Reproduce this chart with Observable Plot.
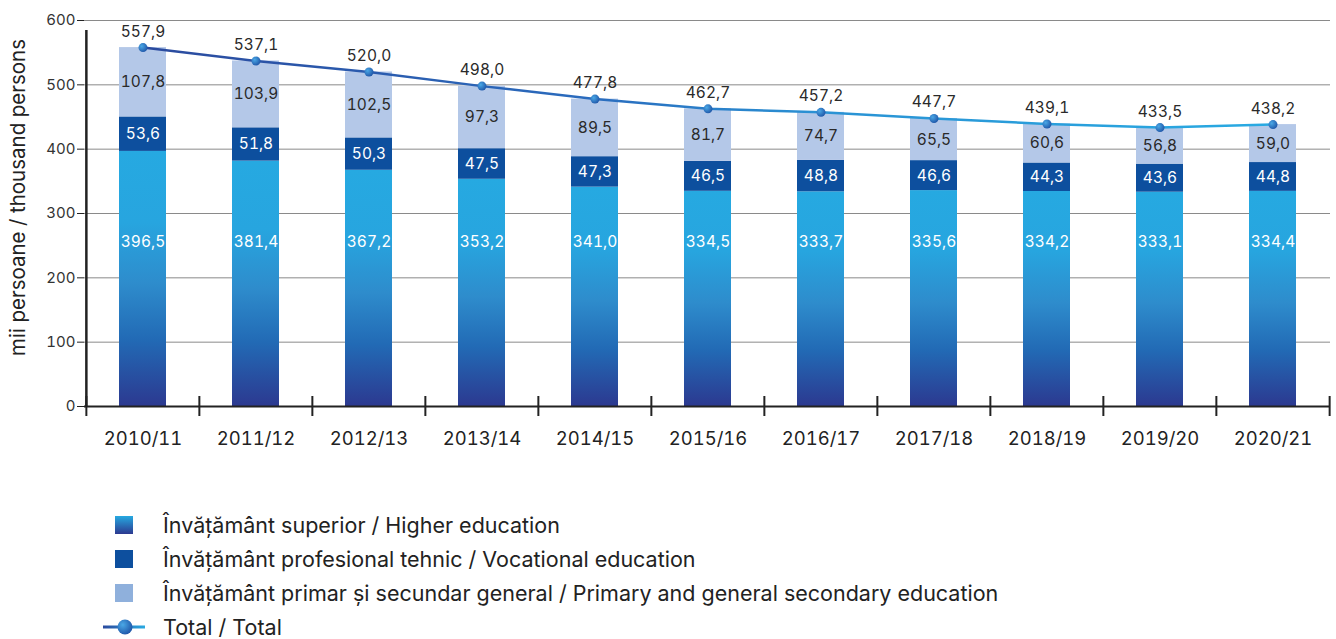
<!DOCTYPE html>
<html>
<head>
<meta charset="utf-8">
<script src="https://cdn.jsdelivr.net/npm/d3@7"></script>
<script src="https://cdn.jsdelivr.net/npm/@observablehq/plot@0.6"></script>
<style>
  body { margin: 0; background: #fff; font-family: Inter, "Noto Sans", sans-serif; }
  svg text { font-variant-numeric: tabular-nums; }
  #legend { margin-top: 38px; position: relative; }
  .row { height: 34px; display: flex; align-items: center; position: relative; font-size: 21.5px; color: #222; }
  .row .ico { position: absolute; left: 115px; width: 18px; height: 18px; }
  .row .txt { position: absolute; left: 163px; white-space: nowrap; line-height: 24px; }
  .row svg { position: absolute; left: 100px; }
</style>
</head>
<body>
<div id="chart"></div>
<div id="legend"></div>
<script>
const years = ["2010/11","2011/12","2012/13","2013/14","2014/15","2015/16","2016/17","2017/18","2018/19","2019/20","2020/21"];
const higher = [396.5,381.4,367.2,353.2,341.0,334.5,333.7,335.6,334.2,333.1,334.4];
const vocational = [53.6,51.8,50.3,47.5,47.3,46.5,48.8,46.6,44.3,43.6,44.8];
const general = [107.8,103.9,102.5,97.3,89.5,81.7,74.7,65.5,60.6,56.8,59.0];
const totals = [557.9,537.1,520.0,498.0,477.8,462.7,457.2,447.7,439.1,433.5,438.2];
const seriesNames = [
  "Învățământ superior / Higher education",
  "Învățământ profesional tehnic / Vocational education",
  "Învățământ primar și secundar general / Primary and general secondary education"
];
const totalName = "Total / Total";
const yTicks = [0,100,200,300,400,500,600];
const yTitle = "mii persoane / thousand persons";

const W = 1336, H = 470, mL = 84, mR = 6, mT = 20, mB = 64;
const step = (W - mL - mR) / years.length;
const fmt = v => v.toFixed(1).replace(".", ",");
const font = "Inter, 'Noto Sans', sans-serif";

const seriesValues = [higher, vocational, general];
const stacked = [];
seriesNames.forEach((s, si) => years.forEach((y, i) => stacked.push({year: y, series: s, value: seriesValues[si][i]})));
const rows = years.map((y, i) => ({year: y, higher: higher[i], vocational: vocational[i], general: general[i], total: totals[i]}));

const NS = "http://www.w3.org/2000/svg";
function defs() {
  const d = document.createElementNS(NS, "defs");
  d.innerHTML = `
    <linearGradient id="gHigher" x1="0" y1="0" x2="0" y2="1">
      <stop offset="0" stop-color="#26a9e1"/>
      <stop offset="0.28" stop-color="#27a5df"/>
      <stop offset="0.52" stop-color="#2e8ccc"/>
      <stop offset="0.74" stop-color="#226ab5"/>
      <stop offset="1" stop-color="#2c3990"/>
    </linearGradient>
    <linearGradient id="gLine" x1="0" y1="0" x2="1" y2="0">
      <stop offset="0" stop-color="#2b4a9e"/>
      <stop offset="0.4" stop-color="#2a6cbe"/>
      <stop offset="0.6" stop-color="#2a92d4"/>
      <stop offset="1" stop-color="#29aae2"/>
    </linearGradient>
    <radialGradient id="gDot" cx="0.35" cy="0.35" r="0.7">
      <stop offset="0" stop-color="#4aa8e6"/>
      <stop offset="1" stop-color="#1f56a8"/>
    </radialGradient>`;
  return d;
}

const chart = Plot.plot({
  width: W, height: H,
  marginLeft: mL, marginRight: mR, marginTop: mT, marginBottom: mB,
  style: {fontFamily: font, background: "#fff"},
  x: {domain: years, paddingInner: 0.585, paddingOuter: 0.2925, label: null},
  y: {domain: [0, 600], label: null},
  color: {domain: seriesNames, range: ["url(#gHigher)", "#0d4f9e", "#b4c8e8"]},
  marks: [
    defs,
    Plot.gridY(yTicks, {stroke: "#8a8a8a", strokeOpacity: 1, strokeWidth: 1}),
    Plot.axisY(yTicks, {tickSize: 7, tickPadding: 2, fontSize: 15, fill: "#333", stroke: "#222", label: null}),
    Plot.axisX({tickSize: 0, tickPadding: 25, fontSize: 18.5, fill: "#222", label: null}),
    Plot.barY(stacked, Plot.stackY({x: "year", y: "value", fill: "series", order: seriesNames})),
    Plot.ruleY([0], {stroke: "#222", strokeWidth: 2}),
    Plot.ruleX(years, {y1: 0, y2: 0, dx: -step / 2, insetTop: -10, insetBottom: -10, stroke: "#222", strokeWidth: 2}),
    Plot.ruleX([years[years.length - 1]], {y1: 0, y2: 0, dx: step / 2, insetTop: -10, insetBottom: -10, stroke: "#222", strokeWidth: 2}),
    Plot.ruleX([years[0]], {y1: 0, y2: 600, dx: -step / 2, insetBottom: -10, stroke: "#222", strokeWidth: 2.5}),
    Plot.text(rows, {x: "year", y: () => 256, text: d => fmt(d.higher), fill: "#fff", fontSize: 15.5}),
    Plot.text(rows, {x: "year", y: d => d.higher + d.vocational / 2, text: d => fmt(d.vocational), fill: "#fff", fontSize: 15.5}),
    Plot.text(rows, {x: "year", y: d => d.higher + d.vocational + d.general / 2, text: d => fmt(d.general), fill: "#2a2a2a", fontSize: 15.5}),
    Plot.line(rows, {x: "year", y: "total", stroke: "url(#gLine)", strokeWidth: 2.5, curve: "linear"}),
    Plot.dot(rows, {x: "year", y: "total", r: 4.5, fill: "url(#gDot)", stroke: "none"}),
    Plot.text(rows, {x: "year", y: "total", text: d => fmt(d.total), dy: -16, fill: "#2a2a2a", fontSize: 15.5}),
    Plot.text([yTitle], {frameAnchor: "left", textAnchor: "middle", rotate: -90, dx: -66, dy: -16, fontSize: 20.5, fill: "#222"})
  ]
});
document.getElementById("chart").appendChild(chart);

const legend = document.getElementById("legend");
const icons = [
  `<div class="ico" style="background:linear-gradient(#26a9e1,#2c3990)"></div>`,
  `<div class="ico" style="background:#0d4f9e"></div>`,
  `<div class="ico" style="background:#8fb0dc"></div>`
];
seriesNames.forEach((s, i) => {
  const r = document.createElement("div");
  r.className = "row";
  r.innerHTML = icons[i] + `<span class="txt">${s}</span>`;
  legend.appendChild(r);
});
const lr = document.createElement("div");
lr.className = "row";
lr.innerHTML = `<svg width="50" height="20" viewBox="0 0 50 20">
  <defs><linearGradient id="lgL" gradientUnits="userSpaceOnUse" x1="3" y1="10" x2="45" y2="10"><stop offset="0" stop-color="#2b4a9e"/><stop offset="1" stop-color="#29aae2"/></linearGradient>
  <radialGradient id="lgD" cx="0.35" cy="0.35" r="0.7"><stop offset="0" stop-color="#4aa8e6"/><stop offset="1" stop-color="#1f56a8"/></radialGradient></defs>
  <line x1="3" y1="10" x2="45" y2="10" stroke="url(#lgL)" stroke-width="3"/>
  <circle cx="25" cy="10" r="7.5" fill="url(#lgD)"/></svg><span class="txt">${totalName}</span>`;
legend.appendChild(lr);
</script>
</body>
</html>
